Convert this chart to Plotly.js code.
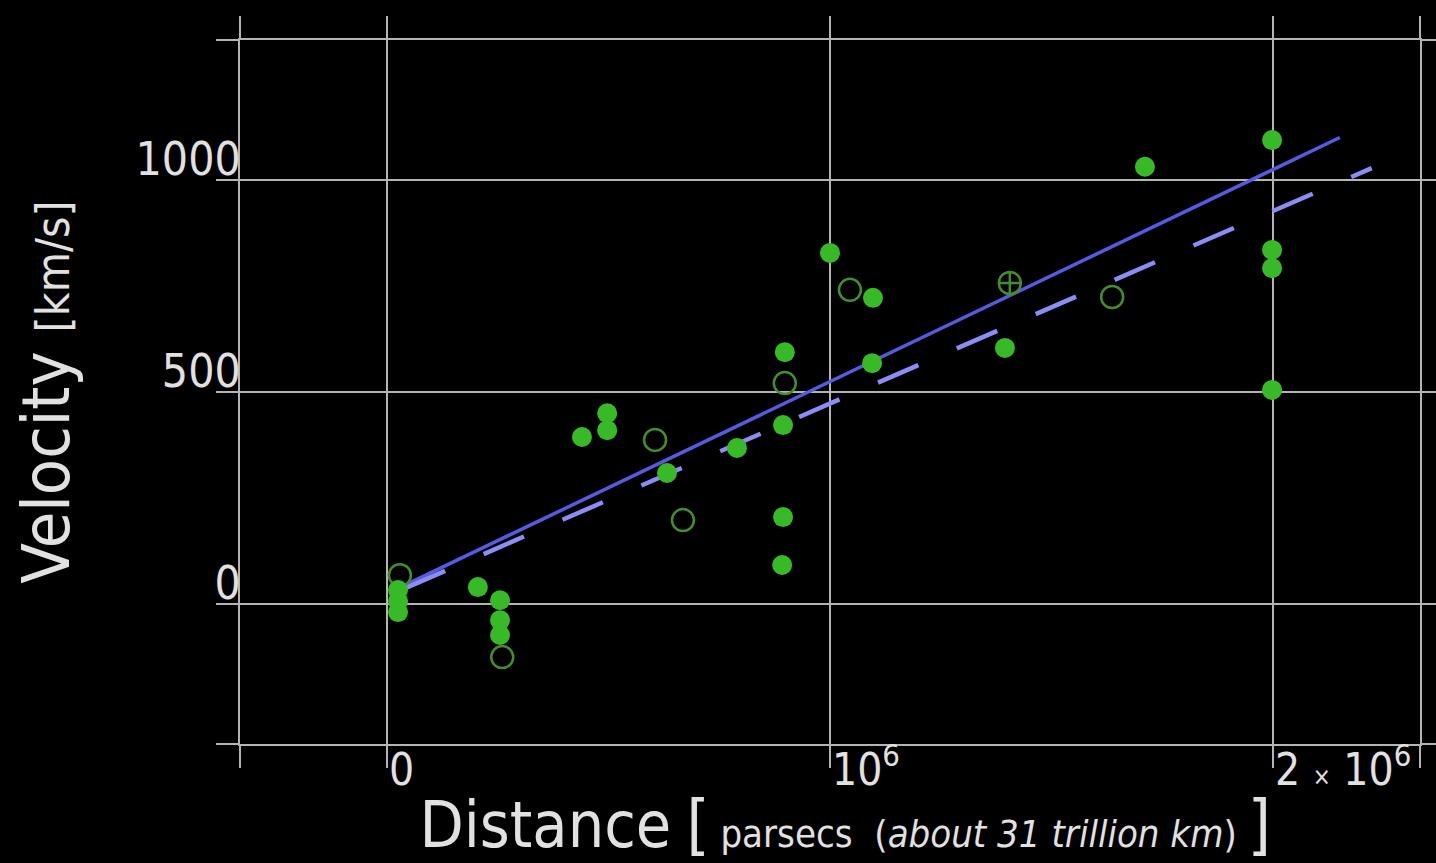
<!DOCTYPE html>
<html><head><meta charset="utf-8">
<script src="https://cdn.plot.ly/plotly-3.0.1.min.js"></script>
<style>html,body{margin:0;padding:0;background:#000;}#chart{width:1436px;height:863px;}</style>
</head><body><div id="chart"></div>
<script>
// Galaxies with filled markers
const filledDistance = [24800, 24800, 24800, 205000, 255000, 255000, 255000, 440000, 497000, 497000,
  632000, 790000, 894000, 898000, 894000, 892000, 1000000, 1097000, 1095000, 1395000,
  1711000, 1998000, 1998000, 1998000, 1998000];
const filledVelocity = [33, 7, -19, 40, 9, -38, -73, 394, 450, 410,
  309, 368, 422, 594, 205, 92, 828, 722, 568, 604,
  1031, 1094, 835, 792, 505];
// Galaxies with open markers
const openDistance = [29000, 260000, 605000, 668000, 898000, 1045000, 1637000];
const openVelocity = [68, -125, 387, 198, 521, 741, 724];
// Crossed marker
const crossDistance = [1406000];
const crossVelocity = [757];
// Fit lines
const solidFitDistance = [45000, 2151000];
const solidFitVelocity = [47, 1100];
const dashedFitDistance = [40000, 2223000];
const dashedFitVelocity = [37, 1028];
// Axes
const xRange = [-332000, 2332000];
const yRange = [-330, 1330];
const xTickVals = [0, 1000000, 2000000];
const xTickText = ['0', '10<sup>6</sup>', '2 <span style="font-size:24px">×</span> 10<sup>6</sup>'];
const yTickVals = [0, 500, 1000];
const yTickText = ['0', '500', '1000'];

const FONT = '"DejaVu Sans Condensed", "Liberation Sans Narrow", sans-serif';
const GRID = 'rgb(180,180,180)';
const TXT = 'rgb(225,225,225)';

const traces = [
  {x: solidFitDistance, y: solidFitVelocity, mode: 'lines', type: 'scatter',
   line: {color: 'rgb(85,90,225)', width: 3.5}, hoverinfo: 'skip'},
  {x: dashedFitDistance, y: dashedFitVelocity, mode: 'lines', type: 'scatter',
   line: {color: 'rgb(140,140,245)', width: 4.5, dash: '44px,42px'}, hoverinfo: 'skip'},
  {x: openDistance, y: openVelocity, mode: 'markers', type: 'scatter',
   marker: {symbol: 'circle-open', size: 22, color: 'rgb(70,140,45)', line: {width: 2.5, color: 'rgb(70,140,45)'}}},
  {x: crossDistance, y: crossVelocity, mode: 'markers', type: 'scatter',
   marker: {symbol: 'circle-cross-open', size: 22, color: 'rgb(70,140,45)', line: {width: 2.5, color: 'rgb(70,140,45)'}}},
  {x: filledDistance, y: filledVelocity, mode: 'markers', type: 'scatter',
   marker: {symbol: 'circle', size: 20, color: 'rgb(55,185,40)'}}
];

function minorEdges(range) {
  return {tickmode: 'array', tickvals: range, ticks: 'outside', ticklen: 22, tickwidth: 2,
          tickcolor: GRID, showgrid: false};
}

const axisCommon = {
  showgrid: true, gridcolor: GRID, gridwidth: 2,
  zeroline: false, showline: true, linecolor: GRID, linewidth: 2, mirror: 'allticks',
  ticks: 'outside', ticklen: 22, tickwidth: 2, tickcolor: GRID,
  automargin: false, fixedrange: true
};

const layout = {
  width: 1436, height: 863,
  paper_bgcolor: '#000', plot_bgcolor: '#000',
  showlegend: false,
  margin: {l: 240, r: 16, t: 40, b: 119},
  font: {family: FONT, color: TXT},
  xaxis: Object.assign({}, axisCommon, {
    range: xRange,
    tickmode: 'array',
    tickvals: xTickVals,
    ticktext: xTickText,
    minor: minorEdges(xRange),
    ticklabelposition: 'outside right',
    ticklabelstandoff: -14,
    tickfont: {family: FONT, size: 44, color: TXT},
    title: {
      text: '&nbsp;&nbsp;<span style="font-size:64px">Distance</span> <span style="font-size:66px">[</span><span style="font-size:38px"> parsecs  (<i>about 31 trillion km</i>) </span><span style="font-size:66px">]</span>',
      font: {family: FONT, size: 53, color: TXT}
    }
  }),
  yaxis: Object.assign({}, axisCommon, {
    range: yRange,
    tickmode: 'array',
    tickvals: yTickVals,
    ticktext: yTickText,
    minor: minorEdges(yRange),
    ticklabelposition: 'outside top',
    ticklabelstandoff: -12,
    ticklabelshift: 12,
    tickfont: {family: FONT, size: 46, color: TXT},
    title: {
      text: '<span style="font-size:66px">Velocity </span><span style="font-size:46px">[km/s]</span>',
      font: {family: FONT, size: 80, color: TXT}
    }
  })
};

Plotly.newPlot('chart', traces, layout, {displayModeBar: false, staticPlot: true});
</script>
</body></html>
